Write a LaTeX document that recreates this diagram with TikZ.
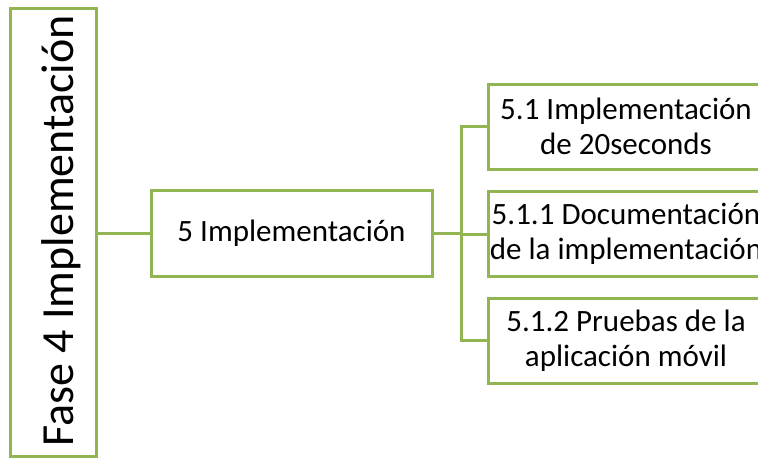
\documentclass[tikz,border=0pt]{standalone}
\usepackage{fontspec}
\setmainfont{Carlito}
\definecolor{boxgreen}{RGB}{145,181,82}
\begin{document}
\begin{tikzpicture}[x=0.75pt,y=-0.75pt,
  box/.style={draw=boxgreen,line width=2.25pt,fill=white,inner sep=0pt,align=center,
    font=\fontsize{23.25}{26.25}\selectfont},
  leftbox/.style={box,minimum width=64.5pt,minimum height=336pt},
  midbox/.style={box,minimum width=210.75pt,minimum height=64.5pt},
  rightbox/.style={box,minimum width=207pt,minimum height=63.75pt},
  conn/.style={draw=boxgreen,line width=2.25pt}]
\useasboundingbox (0,0) rectangle (758,458);
\clip (0,0) rectangle (758,458);
% boxes
\node[leftbox] (fase) at (53,232) {};
\node[rotate=90,inner sep=0pt,font=\fontsize{34.5}{40}\selectfont] (fasetxt) at (61,231) {Fase 4 Implementación};
\node[midbox] (impl) at (291.5,233.5) {5 Implementación};
\node[rightbox] (b1) at (626,126.5) {5.1 Implementación\\de 20seconds};
\node[rightbox] (b2) at (626,234) {5.1.1 Documentación\\de la implementación};
\node[rightbox] (b3) at (626,340.5) {5.1.2 Pruebas de la\\aplicación móvil};
% connectors
\draw[conn] (fase.east |- impl.west) -- (impl.west);
\draw[conn] (impl.east) -- ++(28,0) coordinate (bus);
\draw[conn] (bus) |- (b1.west);
\draw[conn] (bus) |- (b2.west);
\draw[conn] (bus) |- (b3.west);
\end{tikzpicture}
\end{document}
